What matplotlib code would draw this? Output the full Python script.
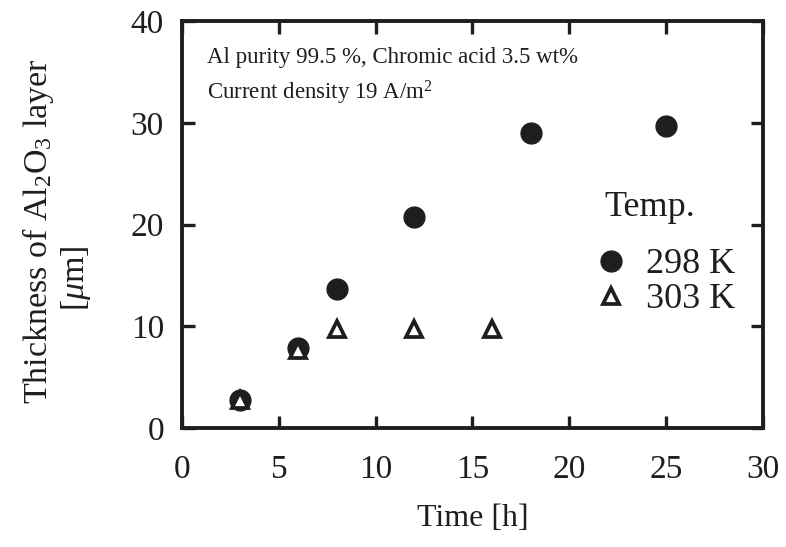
import matplotlib.pyplot as plt
from matplotlib.lines import Line2D

plt.rcParams['font.family'] = ['Liberation Serif', 'DejaVu Serif']
plt.rcParams['mathtext.fontset'] = 'custom'
plt.rcParams['mathtext.rm'] = 'Liberation Serif'
plt.rcParams['mathtext.it'] = 'Liberation Serif:italic'

# data
time_298 = [3, 6, 8, 12, 18, 25]
thick_298 = [2.8, 7.9, 13.7, 20.8, 29.0, 29.7]
time_303 = [3, 6, 8, 12, 16]
thick_303 = [2.8, 7.7, 9.7, 9.7, 9.7]

xticks = [0, 5, 10, 15, 20, 25, 30]
yticks = [0, 10, 20, 30, 40]

ink = '#1e1e1e'

fig = plt.figure(figsize=(7.86, 5.47), dpi=100)
ax = fig.add_axes([0.2316, 0.2176, 0.739, 0.7431])

ax.plot(time_298, thick_298, 'o', ms=15, color=ink, mec=ink, zorder=3)
ax.plot(time_303, thick_303, '^', ms=11.5, mfc='white', mec=ink, mew=2.7, zorder=4)

ax.set_xlim(0, 30)
ax.set_ylim(0, 40)
ax.set_xticks(xticks)
ax.set_yticks(yticks)
ax.tick_params(direction='in', length=9, width=2.4, labelsize=24, colors=ink,
               top=True, right=True)
ax.tick_params(axis='y', pad=13)
ax.tick_params(axis='x', pad=19)
for s in ax.spines.values():
    s.set_linewidth(2.8)
    s.set_color(ink)

ax.set_xlabel('Time [h]', fontsize=23, color=ink, labelpad=14)
fig.text(0.048, 0.577, r'Thickness of Al$_2$O$_3$ layer', rotation=90,
         fontsize=24.5, color=ink, ha='center', va='center')
fig.text(0.097, 0.492, r'[$\mu$m]', rotation=90,
         fontsize=24.5, color=ink, ha='center', va='center')

ax.text(1.3, 35.9, 'Al purity 99.5 %, Chromic acid 3.5 wt%',
        fontsize=16.5, color=ink, va='baseline')
ax.text(1.3, 32.3, r'Current density 19 A/m$^2$',
        fontsize=16.5, color=ink, va='baseline')

ax.text(0.806, 0.543, 'Temp.', transform=ax.transAxes, fontsize=26,
        color=ink, ha='center', va='center')
handles = [
    Line2D([], [], ls='none', marker='o', ms=15, color=ink),
    Line2D([], [], ls='none', marker='^', ms=11.5, mfc='white', mec=ink, mew=2.7),
]
leg = ax.legend(handles, ['298 K', '303 K'], frameon=False,
                fontsize=26, loc='upper left',
                bbox_to_anchor=(0.708, 0.443), handletextpad=0.45,
                labelspacing=0.05, handlelength=1.0, borderpad=0,
                borderaxespad=0)
for t in leg.get_texts():
    t.set_color(ink)

fig.savefig('out.png', dpi=100)
